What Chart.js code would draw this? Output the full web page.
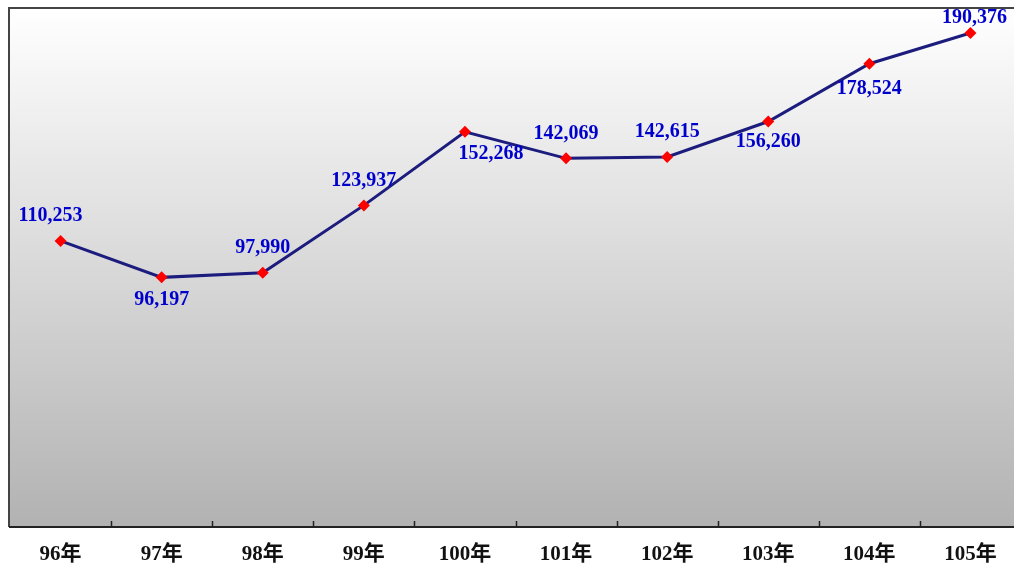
<!DOCTYPE html>
<html>
<head>
<meta charset="utf-8">
<script src="https://cdn.jsdelivr.net/npm/chart.js@4.4.1/dist/chart.umd.min.js"></script>
<style>
html,body{margin:0;padding:0;background:#fff;overflow:hidden;width:1014px;height:567px;}
#wrap{width:1030px;height:567px;}
</style>
</head>
<body>
<div id="wrap"><canvas id="c" width="1030" height="567"></canvas></div>
<script>
const categories = ["96年","97年","98年","99年","100年","101年","102年","103年","104年","105年"];
const values = [110253, 96197, 97990, 123937, 152268, 142069, 142615, 156260, 178524, 190376];
const labelSide = ["above","below","above","above","below","above","above","below","below","above"];

const bgPlugin = {
  id: 'bg',
  beforeDraw(chart) {
    const {ctx, chartArea: a} = chart;
    const g = ctx.createLinearGradient(0, a.top, 0, a.bottom);
    g.addColorStop(0, '#ffffff');
    g.addColorStop(1, '#b2b2b2');
    ctx.save();
    ctx.fillStyle = g;
    ctx.fillRect(a.left - 1, a.top, a.right - a.left + 20, a.bottom - a.top);
    ctx.restore();
  },
  afterDraw(chart) {
    const {ctx, chartArea: a} = chart;
    const xs = chart.scales.x;
    const L = a.left - 1;
    const R = a.right + 20;
    ctx.save();
    ctx.strokeStyle = '#444444';
    ctx.lineWidth = 2;
    ctx.beginPath();
    ctx.moveTo(L, a.bottom);
    ctx.lineTo(L, a.top);
    ctx.lineTo(R, a.top);
    ctx.stroke();
    ctx.strokeStyle = '#222222';
    ctx.lineWidth = 1.5;
    for (let i = 1; i < categories.length; i++) {
      const x = (xs.getPixelForValue(i - 1) + xs.getPixelForValue(i)) / 2;
      ctx.beginPath();
      ctx.moveTo(Math.round(x) + 0.5, a.bottom);
      ctx.lineTo(Math.round(x) + 0.5, a.bottom - 6);
      ctx.stroke();
    }
    ctx.strokeStyle = '#222222';
    ctx.lineWidth = 2;
    ctx.beginPath();
    ctx.moveTo(L, a.bottom);
    ctx.lineTo(R, a.bottom);
    ctx.stroke();
    const meta = chart.getDatasetMeta(0);
    ctx.fillStyle = '#0000cc';
    ctx.font = 'bold 20px "Liberation Serif", serif';
    ctx.textAlign = 'center';
    ctx.textBaseline = 'middle';
    meta.data.forEach((pt, i) => {
      const txt = values[i].toLocaleString('en-US');
      let dy = labelSide[i] === 'above' ? -25 : 22;
      let dx = 0;
      if (i === 0) dx = -10;
      if (i === 4) dx = 26;
      if (i === 9) { dy = -15; dx = 4; }
      if (i === 7) dy = 20;
      if (i === 8) dy = 25;
      ctx.fillText(txt, pt.x + dx, pt.y + dy);
    });
    ctx.restore();
  }
};

new Chart(document.getElementById('c'), {
  type: 'line',
  data: {
    labels: categories,
    datasets: [{
      data: values,
      borderColor: '#1c1c7e',
      borderWidth: 3,
      tension: 0,
      pointStyle: 'rectRot',
      pointRadius: 6,
      pointBackgroundColor: '#ff0000',
      pointBorderColor: '#ff0000',
      pointBorderWidth: 0
    }]
  },
  options: {
    responsive: false,
    animation: false,
    layout: { padding: { left: 10, top: 8, right: 9, bottom: 0 } },
    plugins: { legend: { display: false }, tooltip: { enabled: false } },
    scales: {
      x: {
        offset: true,
        grid: { display: false, drawTicks: false },
        border: { display: false },
        ticks: {
          color: '#111111',
          padding: 15,
          maxRotation: 0,
          font: { family: '"Liberation Serif", "Noto Sans CJK TC", serif', size: 21, weight: 'bold' }
        },
        afterFit(scale) { scale.height = 40; }
      },
      y: {
        display: false,
        min: 0,
        max: 200000
      }
    }
  },
  plugins: [bgPlugin]
});
</script>
</body>
</html>
